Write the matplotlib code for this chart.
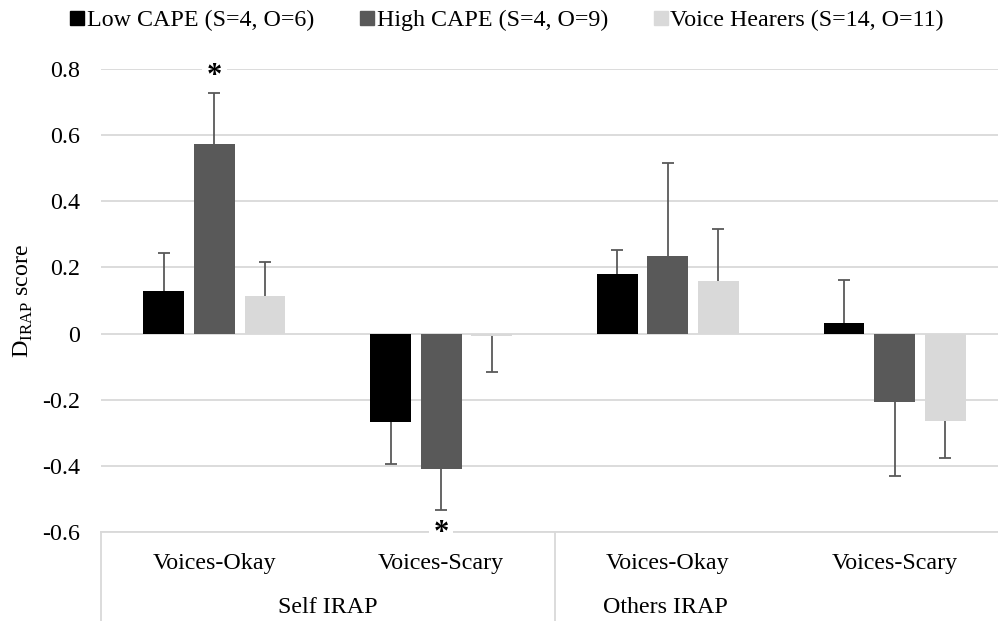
import matplotlib.pyplot as plt
import numpy as np
from matplotlib.lines import Line2D

plt.rcParams['font.family'] = 'serif'
plt.rcParams['font.serif'] = ['Liberation Serif', 'DejaVu Serif']
plt.rcParams['mathtext.fontset'] = 'custom'
plt.rcParams['mathtext.rm'] = 'Liberation Serif'
plt.rcParams['axes.unicode_minus'] = False

# data
conditions = ['Voices-Okay', 'Voices-Scary', 'Voices-Okay', 'Voices-Scary']
irap_groups = ['Self IRAP', 'Others IRAP']
series = ['Low CAPE (S=4, O=6)', 'High CAPE (S=4, O=9)', 'Voice Hearers (S=14, O=11)']
low_cape = [0.128, -0.268, 0.180, 0.031]
high_cape = [0.573, -0.411, 0.235, -0.207]
voice_hearers = [0.114, -0.007, 0.160, -0.265]
low_err = [0.115, 0.125, 0.074, 0.132]
high_err = [0.154, 0.122, 0.282, 0.223]
vh_err = [0.103, 0.109, 0.157, 0.110]
yticks = [0.8, 0.6, 0.4, 0.2, 0, -0.2, -0.4, -0.6]

colors = ['#000000', '#595959', '#d9d9d9']
err_color = '#595959'
grid_color = '#d9d9d9'
fs = 17.3

fig = plt.figure(figsize=(9.98, 6.21), dpi=100)
ax = fig.add_axes([101 / 998, 89 / 621, 907 / 998, 463 / 621])

x = np.arange(len(conditions)) + 0.5
step = 0.223
width = 0.18
vals = [low_cape, high_cape, voice_hearers]
errs = [low_err, high_err, vh_err]
for i, (v, e) in enumerate(zip(vals, errs)):
    v = np.array(v)
    e = np.array(e)
    pos = x + (i - 1) * step
    ax.bar(pos, v, width, color=colors[i], label=series[i], zorder=3)
    # one-sided error bars, pointing away from zero
    end = v + np.sign(v) * e
    ax.vlines(pos, v, end, color=err_color, linewidth=1.3, zorder=6)
    ax.plot(pos, end, linestyle='none', marker='_', markersize=8,
            markeredgewidth=1.3, color=err_color, zorder=6)

ax.set_xlim(0, 4)
ax.set_ylim(-0.6, 0.8)
ax.set_yticks(yticks)
ax.set_yticklabels([('%g' % t) for t in yticks], fontsize=fs)
ax.tick_params(axis='y', length=0, pad=15)
ax.set_xticks([])
ax.yaxis.grid(True, color=grid_color, linewidth=1.3, zorder=0)
for s in ['top', 'right', 'left']:
    ax.spines[s].set_visible(False)
ax.spines['bottom'].set_color(grid_color)
ax.spines['bottom'].set_linewidth(1.3)

ax.set_ylabel(r'D$_{\mathrm{IRAP}}$ score', fontsize=fs, labelpad=5)

# multi-level category axis
trans = ax.get_xaxis_transform()
for xi, lab in zip(x, conditions):
    ax.text(xi, -0.068, lab, transform=trans, ha='center', va='center', fontsize=fs)
group_pos = [1.0, 2.49]
for gx, lab in zip(group_pos, irap_groups):
    ax.text(gx, -0.163, lab, transform=trans, ha='center', va='center', fontsize=fs)
for bx in [0, 2, 4]:
    ax.add_line(Line2D([bx, bx], [0, -0.21], transform=trans, color=grid_color,
                       linewidth=1.3, clip_on=False))

# significance markers (white box hides the gridline behind)
star_box = dict(facecolor='white', edgecolor='none', boxstyle='square,pad=0.15')
ax.text(x[0], 0.787, '*', ha='center', va='center_baseline', fontsize=22,
        fontweight='bold', bbox=star_box, zorder=5)
ax.text(x[1], -0.593, '*', ha='center', va='center_baseline', fontsize=22,
        fontweight='bold', bbox=star_box, zorder=5, clip_on=False)

handles = [Line2D([], [], marker='s', linestyle='none', markersize=9.5,
                  markerfacecolor=c, markeredgecolor=c) for c in colors]
fig.legend(handles, series, loc='center', bbox_to_anchor=(0.508, 0.967), ncol=3,
           frameon=False, fontsize=fs, handletextpad=0.1, columnspacing=1.9,
           handlelength=0.6)

fig.savefig('out.png', dpi=100)
